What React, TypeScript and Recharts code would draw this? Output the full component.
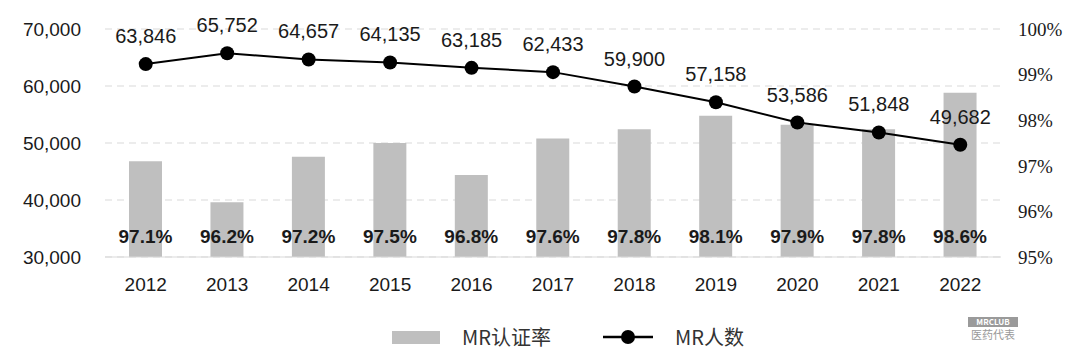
import React from "react";
import {
  ComposedChart,
  Bar,
  Line,
  XAxis,
  YAxis,
  CartesianGrid,
  LabelList,
} from "recharts";

// Years on the x axis
const years = ["2012", "2013", "2014", "2015", "2016", "2017", "2018", "2019", "2020", "2021", "2022"];
// MR认证率 (%), drawn as bars on the right axis
const certRate = [97.1, 96.2, 97.2, 97.5, 96.8, 97.6, 97.8, 98.1, 97.9, 97.8, 98.6];
// MR人数, drawn as a line on the left axis
const mrCount = [63846, 65752, 64657, 64135, 63185, 62433, 59900, 57158, 53586, 51848, 49682];

const leftTicks = [30000, 40000, 50000, 60000, 70000];
const rightTicks = [95, 96, 97, 98, 99, 100];

const SANS = "'Liberation Sans', Arial, sans-serif";
const SERIF = "'Liberation Serif', 'Times New Roman', serif";
const CJK = "'Noto Sans CJK SC', 'Noto Sans', sans-serif";
const TEXT = "#1a1a1a";
const BAR = "#bfbfbf";

const data = years.map((year, i) => ({
  year,
  rate: certRate[i],
  count: mrCount[i],
}));

// bar label sits near the bottom of each bar
const BarLabel = (props: any) => {
  const { x, y, width, height, value } = props;
  return (
    <text
      x={x + width / 2}
      y={y + height - 21}
      textAnchor="middle"
      dominantBaseline="central"
      fontFamily={SANS}
      fontWeight="bold"
      fontSize={19}
      fill={TEXT}
    >
      {value.toFixed(1)}%
    </text>
  );
};

const LineLabel = (props: any) => {
  const { x, y, value } = props;
  return (
    <text
      x={x}
      y={y - 28}
      textAnchor="middle"
      dominantBaseline="central"
      fontFamily={SANS}
      fontSize={20}
      fill={TEXT}
    >
      {value.toLocaleString("en-US")}
    </text>
  );
};

export default function App() {
  return (
    <div style={{ position: "absolute", left: 0, top: 0, width: 1080, height: 356, background: "#fff" }}>
      <ComposedChart
        width={1080}
        height={300}
        data={data}
        margin={{ top: 29, right: 0, bottom: 0, left: 0 }}
      >
        <CartesianGrid
          yAxisId="left"
          vertical={false}
          stroke="#d9d9d9"
          strokeDasharray="7 5"
        />
        <XAxis
          dataKey="year"
          height={43}
          tickLine={false}
          tickSize={0}
          tickMargin={21}
          axisLine={{ stroke: "#d9d9d9" }}
          tick={{ fill: TEXT, fontSize: 19, fontFamily: SANS }}
        />
        <YAxis
          yAxisId="left"
          orientation="left"
          width={105}
          domain={[30000, 70000]}
          ticks={leftTicks}
          tickFormatter={(v: number) => v.toLocaleString("en-US")}
          axisLine={false}
          tickLine={false}
          tickSize={0}
          tickMargin={24}
          tick={{ fill: TEXT, fontSize: 19, fontFamily: SANS }}
        />
        <YAxis
          yAxisId="right"
          orientation="right"
          width={79}
          domain={[95, 100]}
          ticks={rightTicks}
          tickFormatter={(v: number) => `${v}%`}
          axisLine={false}
          tickLine={false}
          tickSize={0}
          tickMargin={17}
          tick={{ fill: TEXT, fontSize: 19, fontFamily: SERIF, textAnchor: "start" }}
        />
        <Bar
          yAxisId="right"
          dataKey="rate"
          fill={BAR}
          barSize={33}
          isAnimationActive={false}
        >
          <LabelList dataKey="rate" content={BarLabel} />
        </Bar>
        <Line
          yAxisId="left"
          dataKey="count"
          stroke="#000"
          strokeWidth={2}
          dot={{ r: 7, fill: "#000", stroke: "#000", strokeWidth: 0 }}
          activeDot={false}
          isAnimationActive={false}
        >
          <LabelList dataKey="count" content={LineLabel} />
        </Line>
      </ComposedChart>

      {/* legend */}
      <div
        style={{
          position: "absolute",
          top: 325,
          left: 0,
          width: 1080,
          height: 24,
          fontFamily: CJK,
          fontSize: 20,
          color: "#333",
        }}
      >
        <div style={{ position: "absolute", left: 392, top: 6, width: 48, height: 13, background: BAR }} />
        <span style={{ position: "absolute", left: 462, top: 0, lineHeight: "24px", whiteSpace: "nowrap" }}>MR认证率</span>
        <svg style={{ position: "absolute", left: 603, top: 2 }} width={50} height={20}>
          <line x1={0} y1={10} x2={50} y2={10} stroke="#000" strokeWidth={2.5} />
          <circle cx={25} cy={10} r={7} fill="#000" />
        </svg>
        <span style={{ position: "absolute", left: 675, top: 0, lineHeight: "24px", whiteSpace: "nowrap" }}>MR人数</span>
      </div>

      {/* watermark */}
      <div
        style={{
          position: "absolute",
          left: 968,
          top: 317,
          width: 50,
          fontFamily: CJK,
          color: "#9a9a9a",
          textAlign: "center",
        }}
      >
        <div style={{ fontSize: 8, lineHeight: "10px", fontWeight: "bold", background: "#9a9a9a", color: "#fff" }}>MRCLUB</div>
        <div style={{ fontSize: 11, lineHeight: "12px", marginTop: 1 }}>医药代表</div>
      </div>
    </div>
  );
}
